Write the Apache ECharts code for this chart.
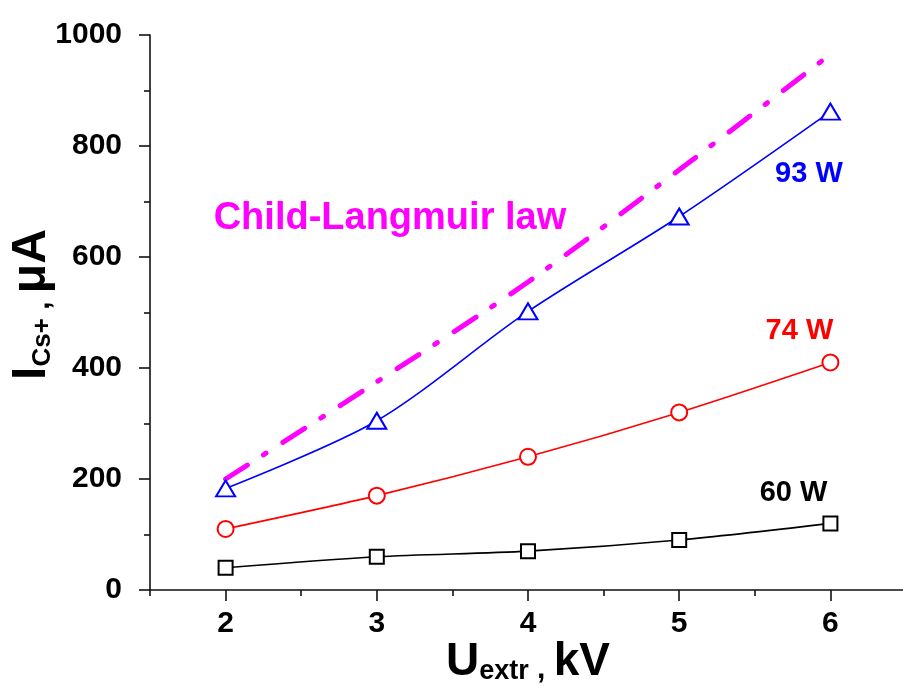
<!DOCTYPE html>
<html>
<head>
<meta charset="utf-8">
<script src="https://cdn.jsdelivr.net/npm/echarts@6/dist/echarts.min.js"></script>
<style>html,body{margin:0;padding:0;background:#fff}#c{width:903px;height:686px}</style>
</head>
<body>
<div id="c"></div>
<script>
// ---- data ----
const voltages = [2, 3, 4, 5, 6];            // U_extr, kV
const current60W = [40, 60, 70, 90, 120];     // µA
const current74W = [110, 170, 240, 320, 410];
const current93W = [183, 305, 502, 673, 862];
const childLangmuir = [200, 375, 555, 757, 965];
const xTickValues = [2, 3, 4, 5, 6];
const xMinorTickValues = [1.5, 2.5, 3.5, 4.5, 5.5, 6.5];
const seriesNames = ['60 W', '74 W', '93 W', 'Child-Langmuir law'];

const pairs = (ys) => voltages.map((x, i) => [x, ys[i]]);
const FONT = 'Liberation Sans, Arial, sans-serif';

const chart = echarts.init(document.getElementById('c'), null, {renderer: 'canvas'});

function textMark(text, coord, color, size) {
  return {
    coord: coord,
    symbol: 'circle',
    symbolSize: 1,
    itemStyle: {color: 'rgba(0,0,0,0)'},
    label: {show: true, position: 'inside', formatter: text, color: color,
            fontSize: size, fontWeight: 'bold', fontFamily: FONT}
  };
}

const option = {
  backgroundColor: '#ffffff',
  animation: false,
  grid: {left: 150, right: -3, top: 35, bottom: 96, containLabel: false, outerBoundsMode: 'none'},
  xAxis: [{
    type: 'value', min: 1.5, max: 6.5,
    axisLine: {show: true, lineStyle: {color: '#111', width: 1.6}},
    axisTick: {show: true, length: 11, customValues: xTickValues, lineStyle: {color: '#111', width: 1.6}},
    axisLabel: {show: true, customValues: xTickValues, margin: 19, color: '#000',
                fontSize: 30, fontWeight: 'bold', fontFamily: FONT,
                formatter: (v) => String(v)},
    splitLine: {show: false},
    name: '{b|U}{s|extr}{c| , }{b|kV}',
    nameLocation: 'middle', nameGap: 43, nameMoveOverlap: false,
    nameTextStyle: {
      rich: {
        b: {fontSize: 46, fontWeight: 'bold', fontFamily: FONT, color: '#000', lineHeight: 52, verticalAlign: 'bottom'},
        s: {fontSize: 27, fontWeight: 'bold', fontFamily: FONT, color: '#000', lineHeight: 22, verticalAlign: 'bottom'},
        c: {fontSize: 30, fontWeight: 'bold', fontFamily: FONT, color: '#000', lineHeight: 32, verticalAlign: 'bottom'}
      }
    }
  }, {
    type: 'value', min: 1.5, max: 6.5, position: 'bottom',
    axisLine: {show: false},
    axisTick: {show: true, length: 6, customValues: xMinorTickValues, lineStyle: {color: '#111', width: 1.6}},
    axisLabel: {show: false},
    splitLine: {show: false}
  }],
  yAxis: {
    type: 'value', min: 0, max: 1000, interval: 200,
    axisLine: {show: true, lineStyle: {color: '#111', width: 1.6}},
    axisTick: {show: true, length: 11, lineStyle: {color: '#111', width: 1.6}},
    minorTick: {show: true, splitNumber: 2, length: 6, lineStyle: {color: '#111', width: 1.6}},
    axisLabel: {margin: 28, color: '#000', fontSize: 30, fontWeight: 'bold', fontFamily: FONT,
                formatter: (v) => String(v)},
    splitLine: {show: false},
    name: '{b|I}{s|Cs+}{c| , }{b|μA}',
    nameLocation: 'middle', nameGap: 94, nameRotate: 90, nameMoveOverlap: false,
    nameTextStyle: {
      padding: [0, 0, 0, 16],
      rich: {
        b: {fontSize: 48, fontWeight: 'bold', fontFamily: FONT, color: '#000', lineHeight: 54, verticalAlign: 'bottom'},
        s: {fontSize: 26, fontWeight: 'bold', fontFamily: FONT, color: '#000', lineHeight: 24, verticalAlign: 'bottom'},
        c: {fontSize: 30, fontWeight: 'bold', fontFamily: FONT, color: '#000', lineHeight: 34, verticalAlign: 'bottom'}
      }
    }
  },
  series: [{
    name: seriesNames[3], type: 'line', data: pairs(childLangmuir), smooth: 0.3,
    symbol: 'none', z: 2,
    lineStyle: {color: '#FF00FF', width: 5, type: [26, 19, 3, 20], cap: 'round'},
    markPoint: {silent: true, data: [textMark(seriesNames[3], [3.087, 670], '#FF00FF', 38)]}
  }, {
    name: seriesNames[0], type: 'line', data: pairs(current60W), smooth: 0.3,
    symbol: 'rect', symbolSize: 14, z: 3,
    lineStyle: {color: '#000', width: 1.6},
    itemStyle: {color: '#fff', borderColor: '#000', borderWidth: 2},
    markPoint: {silent: true, data: [textMark(seriesNames[0], [5.756, 174], '#000', 29)]}
  }, {
    name: seriesNames[1], type: 'line', data: pairs(current74W), smooth: 0.3,
    symbol: 'circle', symbolSize: 16, z: 3,
    lineStyle: {color: '#FF0000', width: 1.6},
    itemStyle: {color: '#fff', borderColor: '#FF0000', borderWidth: 2},
    markPoint: {silent: true, data: [textMark(seriesNames[1], [5.795, 467], '#FF0000', 29)]}
  }, {
    name: seriesNames[2], type: 'line', data: pairs(current93W), smooth: 0.3,
    symbol: 'triangle', symbolSize: [19, 16], z: 3,
    lineStyle: {color: '#0000FF', width: 1.6},
    itemStyle: {color: '#fff', borderColor: '#0000FF', borderWidth: 2},
    markPoint: {silent: true, data: [textMark(seriesNames[2], [5.858, 749], '#0000FF', 29)]}
  }]
};
chart.setOption(option);
</script>
</body>
</html>
